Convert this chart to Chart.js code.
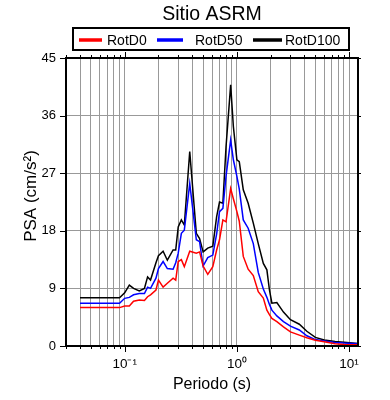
<!DOCTYPE html>
<html>
<head>
<meta charset="utf-8">
<script src="https://cdn.jsdelivr.net/npm/chart.js@4/dist/chart.umd.min.js"></script>
<style>
html,body{margin:0;padding:0;background:#fff;}
#c{display:block;}
</style>
</head>
<body>
<canvas id="c" width="390" height="400"></canvas>
<script>
const periods = [0.04,0.05,0.06,0.07,0.08,0.09,0.1,0.11,0.12,0.135,0.15,0.16,0.17,0.19,0.2,0.22,0.24,0.27,0.285,0.3,0.32,0.34,0.38,0.435,0.465,0.5,0.55,0.61,0.66,0.7,0.75,0.8,0.88,0.93,1.0,1.05,1.14,1.26,1.4,1.55,1.72,1.85,1.95,2.05,2.27,2.6,3.0,3.6,4.2,5.0,6.0,7.5,9.0,12];
const rotD0 = [6.0,6.0,6.0,6.0,6.0,6.0,6.25,6.25,7.0,7.2,7.1,7.7,8.0,8.75,10.3,9.2,9.8,10.6,10.3,13.2,13.5,12.4,14.8,14.5,14.7,12.5,11.2,12.4,15.0,16.6,19.7,19.4,24.6,23.0,21.0,19.5,14.0,12.0,11.0,8.5,7.5,5.6,4.9,4.3,3.8,3.0,2.2,1.7,1.3,0.9,0.65,0.35,0.25,0.2];
const rotD50 = [6.67,6.67,6.67,6.67,6.67,6.67,7.45,7.6,8.0,8.2,8.2,9.2,9.0,10.6,12.1,13.2,12.1,12.0,13.0,14.5,17.6,18.1,25.4,16.6,16.3,12.5,13.8,14.2,17.5,21.0,21.5,26.5,32.2,29.1,26.5,24.5,19.7,18.4,16.0,11.5,8.9,7.6,6.5,5.6,4.7,3.8,3.1,2.5,1.6,1.0,0.8,0.55,0.45,0.35];
const rotD100 = [7.55,7.55,7.55,7.55,7.55,7.55,8.3,9.5,9.0,8.6,9.0,10.8,10.3,13.0,14.1,14.8,13.4,15.0,15.0,18.6,19.7,18.9,30.4,17.6,16.8,14.7,15.3,15.6,20.2,22.5,22.3,31.1,40.8,34.3,29.1,28.8,24.4,22.3,19.2,16.0,12.9,11.9,8.75,6.7,6.8,5.3,4.1,3.4,2.3,1.35,0.95,0.7,0.6,0.4];
const seriesNames = ['RotD0','RotD50','RotD100'];
const seriesColors = ['#ff0000','#0000ff','#000000'];
const xTickValues = [0.03,0.04,0.05,0.06,0.07,0.08,0.09,0.1,0.2,0.3,0.4,0.5,0.6,0.7,0.8,0.9,1,2,3,4,5,6,7,8,9,10];
const xMajorLabels = {0.1:'10\u207B\u00B9', 1:'10\u2070', 10:'10\u00B9'};
const yTicks = [0,9,18,27,36,45];
const titleText = 'Sitio ASRM';
const xTitle = 'Periodo (s)';
const yTitle = 'PSA (cm/s\u00B2)';

const FONT = '"Liberation Sans", Arial, sans-serif';
const allSeries = [rotD0, rotD50, rotD100];

const datasets = allSeries.map((vals, i) => ({
  label: seriesNames[i],
  data: periods.map((p, j) => ({x: p, y: vals[j]})),
  borderColor: seriesColors[i],
  backgroundColor: seriesColors[i],
  borderWidth: 1.5,
  pointRadius: 0,
  showLine: true,
  tension: 0,
  fill: false
}));

const decor = {
  id: 'decor',
  afterDraw(chart) {
    const ctx = chart.ctx;
    const a = chart.chartArea;
    const xs = chart.scales.x, ys = chart.scales.y;
    ctx.save();
    ctx.strokeStyle = '#000';
    ctx.lineWidth = 1;
    xTickValues.forEach(v => {
      const px = Math.round(xs.getPixelForValue(v)) + 0.5;
      const len = xMajorLabels[v] ? 6 : 3;
      ctx.beginPath();
      ctx.moveTo(px, a.bottom); ctx.lineTo(px, a.bottom + len);
      ctx.moveTo(px, a.top); ctx.lineTo(px, a.top - len);
      ctx.stroke();
    });
    yTicks.forEach(v => {
      const py = Math.round(ys.getPixelForValue(v)) + 0.5;
      ctx.beginPath();
      ctx.moveTo(a.left, py); ctx.lineTo(a.left - 6, py);
      ctx.moveTo(a.right, py); ctx.lineTo(a.right + 3, py);
      ctx.stroke();
    });
    ctx.lineWidth = 2;
    ctx.strokeRect(a.left, a.top, a.right - a.left, a.bottom - a.top);
    ctx.fillStyle = '#000';
    ctx.font = '19.5px ' + FONT;
    ctx.textAlign = 'center';
    ctx.textBaseline = 'alphabetic';
    ctx.fillText(titleText, (a.left + a.right) / 2, 19.5);
    ctx.lineWidth = 2;
    ctx.strokeRect(73, 28, 276, 22);
    const legX = [[79,102,107],[157,183,195],[253,282,285]];
    ctx.font = '14px ' + FONT;
    ctx.textAlign = 'left';
    chart.data.datasets.forEach((ds, i) => {
      ctx.strokeStyle = ds.borderColor;
      ctx.lineWidth = 3.5;
      ctx.beginPath();
      ctx.moveTo(legX[i][0], 40); ctx.lineTo(legX[i][1], 40);
      ctx.stroke();
      ctx.fillStyle = '#000';
      ctx.fillText(ds.label, legX[i][2], 45);
    });
    ctx.font = '16px ' + FONT;
    ctx.textAlign = 'center';
    ctx.fillText(xTitle, (a.left + a.right) / 2, 389);
    ctx.save();
    ctx.translate(36, 196);
    ctx.rotate(-Math.PI / 2);
    ctx.font = '17px ' + FONT;
    ctx.fillText(yTitle, 0, 0);
    ctx.restore();
    ctx.restore();
  }
};

new Chart(document.getElementById('c'), {
  type: 'scatter',
  data: { datasets },
  options: {
    responsive: false,
    animation: false,
    devicePixelRatio: 1,
    layout: { padding: { top: 58, right: 32, left: 0, bottom: 0 } },
    plugins: { legend: { display: false }, title: { display: false }, tooltip: { enabled: false } },
    scales: {
      x: {
        type: 'logarithmic',
        min: 0.03,
        max: 12,
        afterBuildTicks(scale) { scale.ticks = xTickValues.map(v => ({value: v})); },
        afterFit(scale) { scale.height = 54; },
        border: { display: false },
        grid: { color: '#999999', lineWidth: 1, drawTicks: false },
        ticks: {
          autoSkip: false,
          maxRotation: 0,
          padding: 10,
          color: '#000',
          font: { family: FONT, size: 13.5 },
          callback: (v) => xMajorLabels[v] || ''
        }
      },
      y: {
        min: 0,
        max: 45,
        afterBuildTicks(scale) { scale.ticks = yTicks.map(v => ({value: v})); },
        afterFit(scale) { scale.width = 66; },
        border: { display: false },
        grid: { color: '#999999', lineWidth: 1, drawTicks: false },
        ticks: {
          padding: 10,
          color: '#000',
          font: { family: FONT, size: 13 }
        }
      }
    }
  },
  plugins: [decor]
});
</script>
</body>
</html>
